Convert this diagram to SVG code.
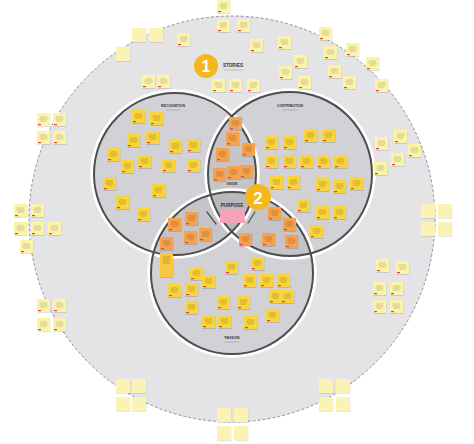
<svg xmlns="http://www.w3.org/2000/svg" xmlns:xlink="http://www.w3.org/1999/xlink" width="474" height="444" viewBox="0 0 474 444">
<style>
.lbl{font-family:"Liberation Sans",Arial,sans-serif;font-weight:bold;fill:#333;text-anchor:middle}
.sub{stroke:#9a9a9a;stroke-width:.6}
.ring{fill:none;stroke:#fff;stroke-width:4.5}
.edge{fill:none;stroke:#4d4d4f;stroke-width:2}
.zone{fill:#8e8e96;fill-opacity:.2}
.num{font-family:"Liberation Sans",Arial,sans-serif;font-weight:bold;fill:#fff;text-anchor:middle}
.tick{stroke:#555;stroke-width:1.3;stroke-linecap:round}
</style>
<defs>
<g id="np"><rect x=".4" y="1" width="13" height="13" fill="#000" opacity=".12"/><rect width="13" height="13" fill="#fbf3a8"/><path d="M3 4h7M2.5 6h8M3.5 8h6" stroke="#6b6b5a" stroke-width=".6" opacity=".55"/><rect x="1" y="11" width="3" height="1.2" fill="#e2452f"/></g>
<g id="ny"><rect x=".4" y="1" width="13" height="13" fill="#000" opacity=".14"/><rect width="13" height="13" fill="#f9d43c"/><path d="M3 4h7M2.5 6h8M3.5 8h6" stroke="#5a4a10" stroke-width=".6" opacity=".55"/><rect x="1" y="11" width="3" height="1.2" fill="#e2452f"/></g>
<g id="no"><rect x=".4" y="1" width="13" height="13" fill="#000" opacity=".14"/><rect width="13" height="13" fill="#f6a24c"/><path d="M3 4h7M2.5 6h8M3.5 8h6" stroke="#5a3010" stroke-width=".6" opacity=".5"/><rect x="1" y="11" width="3" height="1.2" fill="#e2452f"/></g>
<g id="nb"><rect x=".4" y="1" width="14" height="14" fill="#000" opacity=".1"/><rect width="14" height="14" fill="#fbf3b4"/></g>
</defs>
<rect width="474" height="444" fill="#fff"/>
<g id="stories-zone"><circle cx="232" cy="219" r="203" fill="#e4e4e7" stroke="#8c90a8" stroke-width="1" stroke-dasharray="3 2"/></g>
<g id="recognition-zone"><circle class="zone" cx="175" cy="174" r="81"/></g>
<g id="contribution-zone"><circle class="zone" cx="290" cy="174" r="82"/></g>
<g id="passion-zone"><circle class="zone" cx="232" cy="273" r="81"/></g>
<g id="zone-edges">
<circle class="ring" cx="175" cy="174" r="82.5"/><circle class="ring" cx="290" cy="174" r="83.5"/><circle class="ring" cx="232" cy="273" r="82.5"/>
<circle class="edge" cx="175" cy="174" r="81"/><circle class="edge" cx="290" cy="174" r="82"/><circle class="edge" cx="232" cy="273" r="81"/>
</g>
<g id="connectors">
<line class="tick" x1="207" y1="212" x2="216" y2="224"/>
<line class="tick" x1="255" y1="212" x2="248" y2="223"/>
</g>
<g id="label-stories"><text class="lbl" x="233" y="67" font-size="4.6">STORIES</text><line class="sub" x1="224" y1="70" x2="243" y2="70"/></g>
<g id="label-recognition"><text class="lbl" x="173" y="107" font-size="3.4">RECOGNITION</text><line class="sub" x1="166" y1="110" x2="180" y2="110"/></g>
<g id="label-contribution"><text class="lbl" x="290" y="107" font-size="3.4">CONTRIBUTION</text><line class="sub" x1="282" y1="110" x2="298" y2="110"/></g>
<g id="label-passion"><text class="lbl" x="232" y="339" font-size="3.4">PASSION</text><line class="sub" x1="225" y1="342" x2="239" y2="342"/></g>
<g id="label-vision"><text class="lbl" x="232" y="185" font-size="3.2">VISION</text></g>
<g id="purpose"><text class="lbl" x="232" y="207" font-size="4.6">PURPOSE</text><rect x="220" y="209" width="25" height="14" fill="#f4a3b9"/></g>
<g id="badge-1"><circle cx="206" cy="66" r="12" fill="#f4b81c"/><text class="num" x="206" y="72" font-size="16">1</text></g>
<g id="badge-2"><circle cx="258" cy="197" r="13" fill="#f4b81c"/><text class="num" x="258" y="203.5" font-size="17">2</text></g>
<g id="outer-notes">
<use href="#np" x="217" y="0"/><use href="#np" x="217" y="19"/><use href="#np" x="237" y="19"/><use href="#np" x="177" y="33"/>
<use href="#np" x="250" y="39"/><use href="#np" x="278" y="36"/><use href="#np" x="319" y="27"/><use href="#np" x="294" y="55"/>
<use href="#np" x="324" y="46"/><use href="#np" x="346" y="43"/><use href="#np" x="279" y="66"/><use href="#np" x="298" y="76"/>
<use href="#np" x="328" y="65"/><use href="#np" x="343" y="76"/><use href="#np" x="366" y="57"/><use href="#np" x="375" y="79"/>
<use href="#np" x="212" y="79"/><use href="#np" x="229" y="79"/><use href="#np" x="247" y="79"/>
<use href="#np" x="142" y="75"/><use href="#np" x="157" y="75"/>
<use href="#np" x="37" y="113"/><use href="#np" x="53" y="113"/><use href="#np" x="37" y="131"/><use href="#np" x="53" y="131"/>
<use href="#np" x="14" y="204"/><use href="#np" x="31" y="204"/><use href="#np" x="14" y="222"/><use href="#np" x="31" y="222"/>
<use href="#np" x="48" y="222"/><use href="#np" x="20" y="240"/>
<use href="#np" x="37" y="299"/><use href="#np" x="53" y="299"/><use href="#np" x="37" y="318"/><use href="#np" x="53" y="318"/>
<use href="#np" x="375" y="137"/><use href="#np" x="394" y="130"/><use href="#np" x="408" y="144"/><use href="#np" x="391" y="153"/><use href="#np" x="374" y="162"/>
<use href="#np" x="376" y="259"/><use href="#np" x="396" y="261"/><use href="#np" x="373" y="282"/><use href="#np" x="390" y="282"/>
<use href="#np" x="373" y="300"/><use href="#np" x="390" y="300"/>
</g>
<g id="blank-notes">
<use href="#nb" x="132" y="28"/><use href="#nb" x="149" y="28"/><use href="#nb" x="116" y="47"/>
<use href="#nb" x="421" y="204"/><use href="#nb" x="438" y="204"/><use href="#nb" x="421" y="222"/><use href="#nb" x="438" y="222"/>
<use href="#nb" x="116" y="379"/><use href="#nb" x="132" y="379"/><use href="#nb" x="116" y="397"/><use href="#nb" x="132" y="397"/>
<use href="#nb" x="319" y="379"/><use href="#nb" x="336" y="379"/><use href="#nb" x="319" y="397"/><use href="#nb" x="336" y="397"/>
<use href="#nb" x="217" y="408"/><use href="#nb" x="234" y="408"/><use href="#nb" x="217" y="426"/><use href="#nb" x="234" y="426"/>
</g>
<g id="recognition-notes">
<use href="#ny" x="132" y="110"/><use href="#ny" x="150" y="112"/><use href="#ny" x="127" y="134"/><use href="#ny" x="146" y="131"/>
<use href="#ny" x="169" y="140"/><use href="#ny" x="187" y="139"/><use href="#ny" x="107" y="148"/><use href="#ny" x="121" y="160"/>
<use href="#ny" x="138" y="155"/><use href="#ny" x="162" y="159"/><use href="#ny" x="187" y="159"/><use href="#ny" x="103" y="177"/>
<use href="#ny" x="152" y="184"/><use href="#ny" x="116" y="196"/><use href="#ny" x="137" y="208"/>
</g>
<g id="contribution-notes">
<use href="#ny" x="304" y="129"/><use href="#ny" x="322" y="129"/><use href="#ny" x="265" y="136"/><use href="#ny" x="283" y="136"/>
<use href="#ny" x="265" y="155"/><use href="#ny" x="283" y="155"/><use href="#ny" x="300" y="155"/><use href="#ny" x="317" y="155"/>
<use href="#ny" x="334" y="155"/><use href="#ny" x="270" y="176"/><use href="#ny" x="287" y="176"/><use href="#ny" x="316" y="178"/>
<use href="#ny" x="333" y="180"/><use href="#ny" x="350" y="177"/><use href="#ny" x="297" y="199"/><use href="#ny" x="316" y="206"/>
<use href="#ny" x="333" y="206"/><use href="#ny" x="310" y="225"/>
</g>
<g id="passion-notes">
<g id="tall-note"><rect x="160.4" y="254" width="13" height="24" fill="#000" opacity=".14"/><rect x="160" y="253" width="13" height="24" fill="#f9c840"/><path d="M163 257h7M162.5 259h8M163.5 261h6M163 263h7" stroke="#5a4a10" stroke-width=".6" opacity=".55"/></g>
<use href="#ny" x="190" y="267"/><use href="#ny" x="202" y="275"/><use href="#ny" x="168" y="284"/><use href="#ny" x="185" y="283"/>
<use href="#ny" x="185" y="301"/><use href="#ny" x="202" y="315"/><use href="#ny" x="218" y="315"/><use href="#ny" x="217" y="296"/>
<use href="#ny" x="225" y="261"/><use href="#ny" x="251" y="257"/><use href="#ny" x="243" y="274"/><use href="#ny" x="260" y="274"/>
<use href="#ny" x="277" y="274"/><use href="#ny" x="269" y="290"/><use href="#ny" x="281" y="290"/><use href="#ny" x="237" y="296"/>
<use href="#ny" x="266" y="309"/><use href="#ny" x="244" y="316"/>
</g>
<g id="overlap-notes">
<use href="#no" x="229" y="117"/><use href="#no" x="226" y="132"/><use href="#no" x="242" y="143"/><use href="#no" x="216" y="148"/>
<use href="#no" x="213" y="168"/><use href="#no" x="227" y="166"/><use href="#no" x="240" y="165"/>
<use href="#no" x="168" y="218"/><use href="#no" x="160" y="237"/><use href="#no" x="184" y="231"/><use href="#no" x="199" y="228"/><use href="#no" x="185" y="212"/>
<use href="#no" x="268" y="207"/><use href="#no" x="283" y="218"/><use href="#no" x="285" y="235"/><use href="#no" x="262" y="233"/><use href="#no" x="239" y="233"/>
</g>
</svg>
